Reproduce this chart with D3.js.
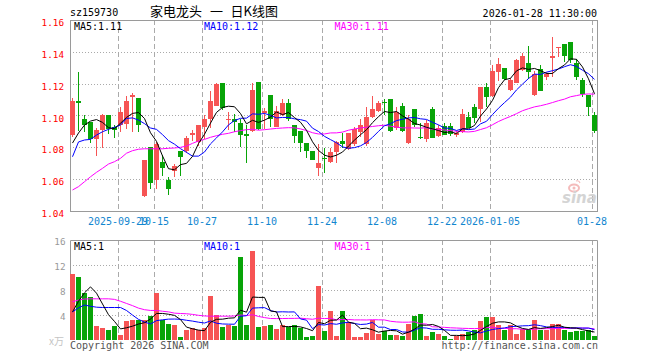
<!DOCTYPE html>
<html><head><meta charset="utf-8">
<script src="https://cdn.jsdelivr.net/npm/d3@7"></script>
<style>
body{margin:0;background:#fff;}
svg{display:block;}
text{font-family:"DejaVu Sans Mono","Liberation Mono",monospace;}
</style>
</head><body>
<svg id="chart" width="660" height="360"></svg>
<script>
// ---------------- data ----------------
const dates = [
"2025-09-17","2025-09-18","2025-09-19","2025-09-22","2025-09-23","2025-09-24","2025-09-25","2025-09-26","2025-09-29","2025-09-30",
"2025-10-09","2025-10-10","2025-10-13","2025-10-14","2025-10-15","2025-10-16","2025-10-17","2025-10-20","2025-10-21","2025-10-22",
"2025-10-23","2025-10-24","2025-10-27","2025-10-28","2025-10-29","2025-10-30","2025-10-31","2025-11-03","2025-11-04","2025-11-05",
"2025-11-06","2025-11-07","2025-11-10","2025-11-11","2025-11-12","2025-11-13","2025-11-14","2025-11-17","2025-11-18","2025-11-19",
"2025-11-20","2025-11-21","2025-11-24","2025-11-25","2025-11-26","2025-11-27","2025-11-28","2025-12-01","2025-12-02","2025-12-03",
"2025-12-04","2025-12-05","2025-12-08","2025-12-09","2025-12-10","2025-12-11","2025-12-12","2025-12-15","2025-12-16","2025-12-17",
"2025-12-18","2025-12-19","2025-12-22","2025-12-23","2025-12-24","2025-12-25","2025-12-26","2025-12-29","2025-12-30","2025-12-31",
"2026-01-05","2026-01-06","2026-01-07","2026-01-08","2026-01-09","2026-01-12","2026-01-13","2026-01-14","2026-01-15","2026-01-16",
"2026-01-19","2026-01-20","2026-01-21","2026-01-22","2026-01-23","2026-01-26","2026-01-27","2026-01-28"];

const open = [
1.0877,1.1091,1.0978,1.0959,1.0852,1.0909,1.1003,1.0930,1.0940,1.0946,
1.1114,1.1108,1.0494,1.0804,1.0595,1.0710,1.0595,1.0653,1.0779,1.0779,
1.0877,1.0835,1.0930,1.0978,1.1059,1.1206,1.0972,1.0978,1.0955,1.0882,
1.0904,1.1208,1.1017,1.1129,1.0926,1.1003,1.1080,1.0940,1.0902,1.0829,
1.0777,1.0672,1.0731,1.0710,1.0772,1.0840,1.0788,1.0819,1.0898,1.0819,
1.0989,1.1028,1.1083,1.1103,1.0919,1.1059,1.0825,1.1039,1.0868,1.0850,
1.1041,1.0871,1.0934,1.0936,1.0877,1.0898,1.0992,1.1051,1.1041,1.1177,
1.1122,1.1275,1.1296,1.1160,1.1206,1.1285,1.1328,1.1129,1.1290,1.1243,
1.1359,1.1422,1.1449,1.1459,1.1331,1.1223,1.1129,1.1003];
const high = [
1.1108,1.1273,1.1003,1.0959,1.0921,1.1009,1.1003,1.0940,1.1055,1.1122,
1.1143,1.1108,1.0720,1.0804,1.0835,1.0752,1.0615,1.0695,1.0779,1.0873,
1.0909,1.0940,1.1003,1.1154,1.1206,1.1206,1.1024,1.1009,1.0978,1.0940,
1.1202,1.1208,1.1045,1.1129,1.1059,1.1103,1.1101,1.0940,1.0902,1.0829,
1.0777,1.0821,1.0794,1.0794,1.0840,1.0892,1.0892,1.0926,1.0978,1.1055,
1.1122,1.1091,1.1101,1.1103,1.1055,1.1080,1.1003,1.1039,1.0951,1.0971,
1.1055,1.0940,1.0951,1.0951,1.0904,1.1039,1.1024,1.1072,1.1177,1.1202,
1.1317,1.1359,1.1296,1.1233,1.1353,1.1394,1.1436,1.1279,1.1317,1.1275,
1.1495,1.1428,1.1449,1.1459,1.1353,1.1233,1.1129,1.1024];
const low = [
1.0867,1.0904,1.0898,1.0827,1.0747,1.0796,1.0884,1.0860,1.0898,1.0915,
1.0898,1.0898,1.0488,1.0538,1.0536,1.0622,1.0500,1.0615,1.0622,1.0762,
1.0840,1.0808,1.0852,1.0919,1.1059,1.1034,1.0909,1.0896,1.0800,1.0700,
1.0898,1.0909,1.0913,1.0926,1.0926,1.0997,1.0967,1.0825,1.0772,1.0731,
1.0720,1.0620,1.0637,1.0703,1.0703,1.0794,1.0783,1.0808,1.0867,1.0808,
1.0982,1.1022,1.1003,1.0898,1.0909,1.0898,1.0821,1.0930,1.0851,1.0835,
1.0857,1.0863,1.0877,1.0871,1.0867,1.0892,1.0919,1.0951,1.0961,1.1055,
1.1118,1.1218,1.1223,1.1155,1.1202,1.1281,1.1229,1.1122,1.1154,1.1223,
1.1243,1.1369,1.1338,1.1329,1.1223,1.1114,1.0997,1.0888];
const close = [
1.1091,1.1080,1.0940,1.0852,1.0909,1.1003,1.0913,1.0909,1.1024,1.1091,
1.1129,1.0940,1.0720,1.0578,1.0821,1.0672,1.0538,1.0685,1.0741,1.0860,
1.0892,1.0940,1.0978,1.1091,1.1196,1.1049,1.0978,1.0961,1.0877,1.0873,
1.1160,1.0913,1.1030,1.0976,1.1030,1.1080,1.0976,1.0873,1.0829,1.0777,
1.0720,1.0703,1.0725,1.0772,1.0832,1.0819,1.0892,1.0913,1.0940,1.0989,
1.1041,1.1080,1.1077,1.0904,1.1024,1.0904,1.0976,1.0940,1.0857,1.0951,
1.0857,1.0923,1.0877,1.0882,1.0892,1.1009,1.0923,1.0982,1.1177,1.1114,
1.1279,1.1323,1.1229,1.1223,1.1348,1.1373,1.1275,1.1259,1.1154,1.1259,
1.1373,1.1428,1.1373,1.1348,1.1243,1.1133,1.1055,1.0904];
// volume, in 万
const volume = [
10.64,10.16,7.6,6.85,2.21,2.0,1.57,2.21,0.88,3.12,
3.28,3.28,3.28,3.81,7.6,3.28,2.64,2.37,0.45,1.57,
1.95,1.57,1.95,7.12,3.97,2.05,2.37,2.21,13.25,2.37,
14.2,2.05,2.21,2.37,1.73,2.37,2.05,2.37,1.95,0.45,
0.61,8.61,1.41,4.72,0.61,4.61,2.91,0.45,0.45,1.09,
3.28,0.99,1.41,0.88,0.77,0.61,2.59,3.81,4.19,0.61,
1.25,0.99,0.61,0.24,0.61,0.99,1.31,1.68,3.12,3.65,
3.65,2.37,1.68,2.37,1.04,1.79,1.57,3.17,1.68,1.68,
2.64,2.64,1.57,1.25,1.41,1.41,1.68,0.61];

// moving-average values before a full window exists
const priceMa5Head = [1.0827,1.0890,1.0940,1.0965];
const priceMa10Head = [1.0741,1.0834,1.0846,1.0850,1.0877,1.0898,1.0913,1.0926,1.0940];
const priceMa30Head = [1.0532,1.0553,1.0584,1.0615,1.0643,1.0668,1.0695,1.0710,1.0731,1.0763,
1.0779,1.0788,1.0791,1.0791,1.0791,1.0791,1.0794,1.0796,1.0800,1.0808,
1.0825,1.0840,1.0850,1.0863,1.0873,1.0882,1.0888,1.0898,1.0905];
const volMa5Head = [4.5,6.2,7.55,8.5];
const volMa10Head = [4.5,5.15,5.6,5.4,5.25,5.2,5.2,5.2,5.2];
const volMa30Head = [6.11,6.4,6.55,6.59,6.59,6.59,6.59,6.5,6.2,5.85,
5.5,5.1,4.85,4.73,4.73,4.6,4.5,4.3,4.24,4.2,
4.1,3.95,3.85,3.81,3.81,3.81,3.81,3.85,4.0];

const priceTicks = [1.04,1.06,1.08,1.10,1.12,1.14,1.16];
const volTicks = [4,8,12,16];
const xTickDates = ["2025-09-29","2025-10-15","2025-10-27","2025-11-10","2025-11-24","2025-12-08","2025-12-22","2026-01-05","2026-01-28"];
const xTickLabels = ["2025-09-29","10-15","10-27","11-10","11-24","12-08","12-22","2026-01-05","01-28"];

const code = "sz159730";
const titleParts = ["家电龙头","一","日K线图"];
const stamp = "2026-01-28 11:30:00";

// ---------------- helpers ----------------
function movingAvg(vals, n, head){
  return vals.map((v,i)=> i < n-1 ? head[i] : d3.mean(vals.slice(i-n+1,i+1)));
}
const pMa5 = movingAvg(close,5,priceMa5Head);
const pMa10 = movingAvg(close,10,priceMa10Head);
const pMa30 = movingAvg(close,30,priceMa30Head);
const vMa5 = movingAvg(volume,5,volMa5Head);
const vMa10 = movingAvg(volume,10,volMa10Head);
const vMa30 = movingAvg(volume,30,volMa30Head);

const RED="#f65454", GREEN="#08a408", GRID="#aaaaaa", FRAME="#9a9a9a";

const svg = d3.select("#chart");
const L=70, R=597, PT=20, PB=211, VT=240, VB=340;

const x = d3.scaleBand().domain(dates).range([L, L+6*dates.length]).padding(0);
const bw = x.bandwidth();
const yP = d3.scaleLinear().domain([1.04,1.16]).range([PB,PT]);
const yV = d3.scaleLinear().domain([0,16]).range([VB,VT]);
const idx = d3.range(dates.length);

// ---------------- grids ----------------
function grid(top,bottom,yScale,hTicks){
  const g = svg.append("g");
  g.selectAll(".h").data(hTicks).join("line")
    .attr("x1",L).attr("x2",R)
    .attr("y1",d=>Math.round(yScale(d))+0.5).attr("y2",d=>Math.round(yScale(d))+0.5)
    .attr("stroke",GRID).attr("stroke-dasharray","1,2");
  g.selectAll(".v").data(xTickDates).join("line")
    .attr("x1",d=>x(d)+0.5).attr("x2",d=>x(d)+0.5)
    .attr("y1",top).attr("y2",bottom)
    .attr("stroke",GRID).attr("stroke-dasharray","5,3");
}
grid(PT,PB,yP,priceTicks.filter(t=>t>1.041 && t<1.159));
grid(VT,VB,yV,volTicks.filter(t=>t<16));

// frames
svg.append("rect").attr("x",L+0.5).attr("y",PT+0.5).attr("width",R-L).attr("height",PB-PT)
  .attr("fill","none").attr("stroke",FRAME);
svg.append("path").attr("d",`M${L+0.5},${VB}V${VT+0.5}H${R+0.5}V${VB}`)
  .attr("fill","none").attr("stroke",FRAME);

// ---------------- candles ----------------
const cg = svg.append("g").attr("shape-rendering","crispEdges");
const col = i => close[i] >= open[i] ? RED : GREEN;
cg.selectAll(".wick").data(idx).join("line")
  .attr("x1",i=>x(dates[i])+2.5).attr("x2",i=>x(dates[i])+2.5)
  .attr("y1",i=>yP(high[i])).attr("y2",i=>yP(low[i]))
  .attr("stroke",col);
cg.selectAll(".body").data(idx).join("rect")
  .attr("x",i=>x(dates[i])).attr("width",bw-1)
  .attr("y",i=>yP(Math.max(open[i],close[i])))
  .attr("height",i=>Math.max(1,Math.abs(yP(open[i])-yP(close[i]))))
  .attr("fill",col);

// volume bars
cg.selectAll(".vol").data(idx).join("rect")
  .attr("x",i=>x(dates[i])).attr("width",bw-1)
  .attr("y",i=>yV(volume[i])).attr("height",i=>yV(0)-yV(volume[i]))
  .attr("fill",col);

// ---------------- MA lines ----------------
function maLine(arr,yScale,color){
  const line = d3.line().x(i=>x(dates[i])+2.5).y(i=>yScale(arr[i]));
  svg.append("path").attr("d",line(idx)).attr("fill","none")
    .attr("stroke",color).attr("stroke-width",1);
}
maLine(pMa30,yP,"#ff00ff");
maLine(pMa10,yP,"#0000ff");
maLine(pMa5,yP,"#000000");
maLine(vMa30,yV,"#ff00ff");
maLine(vMa10,yV,"#0000ff");
maLine(vMa5,yV,"#000000");

// ---------------- axes ----------------
const ax = svg.append("g").attr("transform",`translate(${L},0)`)
  .call(d3.axisLeft(yP).tickValues(priceTicks).tickFormat(d3.format(".2f")).tickSize(0).tickPadding(6));
ax.select(".domain").remove();
ax.selectAll("text").attr("fill","#ff0000").attr("font-size",9.3)
  .attr("font-family","DejaVu Sans Mono").attr("dy","0.6em");

const av = svg.append("g").attr("transform",`translate(${L},0)`)
  .call(d3.axisLeft(yV).tickValues(volTicks).tickFormat(d3.format("d")).tickSize(0).tickPadding(4.5));
av.select(".domain").remove();
av.selectAll("text").attr("fill","#999").attr("font-size",9.3)
  .attr("font-family","DejaVu Sans Mono").attr("dy","0.45em");

const axb = svg.append("g").attr("transform",`translate(${-bw/2},${PB})`)
  .call(d3.axisBottom(x).tickValues(xTickDates).tickFormat((d,i)=>xTickLabels[i]).tickSize(0).tickPadding(7));
axb.select(".domain").remove();
axb.selectAll("text").attr("fill","#1286cf").attr("font-size",10)
  .attr("font-family","DejaVu Sans Mono");

// ---------------- texts ----------------
svg.append("text").attr("x",L).attr("y",16).attr("font-size",10).attr("fill","#000").text(code);
const tt = svg.append("text").attr("y",16).attr("font-size",13).attr("fill","#000")
  .style("font-family","'Noto Sans CJK SC',sans-serif");
tt.append("tspan").attr("x",150).text(titleParts[0]);
tt.append("tspan").attr("x",210).text(titleParts[1]);
tt.append("tspan").attr("x",230.5).text(titleParts[2]);
svg.append("text").attr("x",R).attr("y",16.5).attr("text-anchor","end").attr("font-size",10).attr("fill","#000").text(stamp);

const f2 = d3.format(".2f");
const last = a => a[a.length-1];
function legend(y, labels){
  const cols = ["#000","#0000ff","#ff00ff"], xs=[74,204,334.5];
  labels.forEach((t,k)=> svg.append("text").attr("x",xs[k]).attr("y",y)
    .attr("font-size",10).attr("fill",cols[k]).text(t));
}
legend(29.5, ["MA5:"+f2(last(pMa5)),"MA10:"+f2(last(pMa10)),"MA30:"+f2(last(pMa30))]);
legend(250, ["MA5:"+Math.floor(last(vMa5)),"MA10:"+Math.floor(last(vMa10)),"MA30:"+Math.floor(last(vMa30))]);

svg.append("text").attr("x",49).attr("y",345).attr("font-size",10).attr("fill","#c4c4c4")
  .style("font-family","'Noto Sans CJK SC',sans-serif").text("x万");
svg.append("text").attr("x",L).attr("y",348.5).attr("font-size",10).attr("fill","#555").text("Copyright 2026 SINA.COM");
svg.append("text").attr("x",R+1).attr("y",348.5).attr("text-anchor","end").attr("font-size",10).attr("fill","#555").text("http://finance.sina.com.cn");

// sina watermark
const wm = svg.append("g").attr("opacity",0.9);
wm.append("ellipse").attr("cx",574).attr("cy",188).attr("rx",5).attr("ry",3.6)
  .attr("fill","none").attr("stroke","#f3b4b4").attr("stroke-width",2);
wm.append("circle").attr("cx",574).attr("cy",188).attr("r",1.5).attr("fill","#f3b4b4");
wm.append("path").attr("d","M576,181 q3,-1 4,2").attr("fill","none").attr("stroke","#f3b4b4").attr("stroke-width",1.2);
wm.append("text").attr("x",562).attr("y",203).attr("font-size",15).attr("font-style","italic")
  .attr("font-weight","bold").attr("fill","#d0d0d0").style("font-family","'DejaVu Sans',sans-serif").text("sina");
</script>
</body></html>
